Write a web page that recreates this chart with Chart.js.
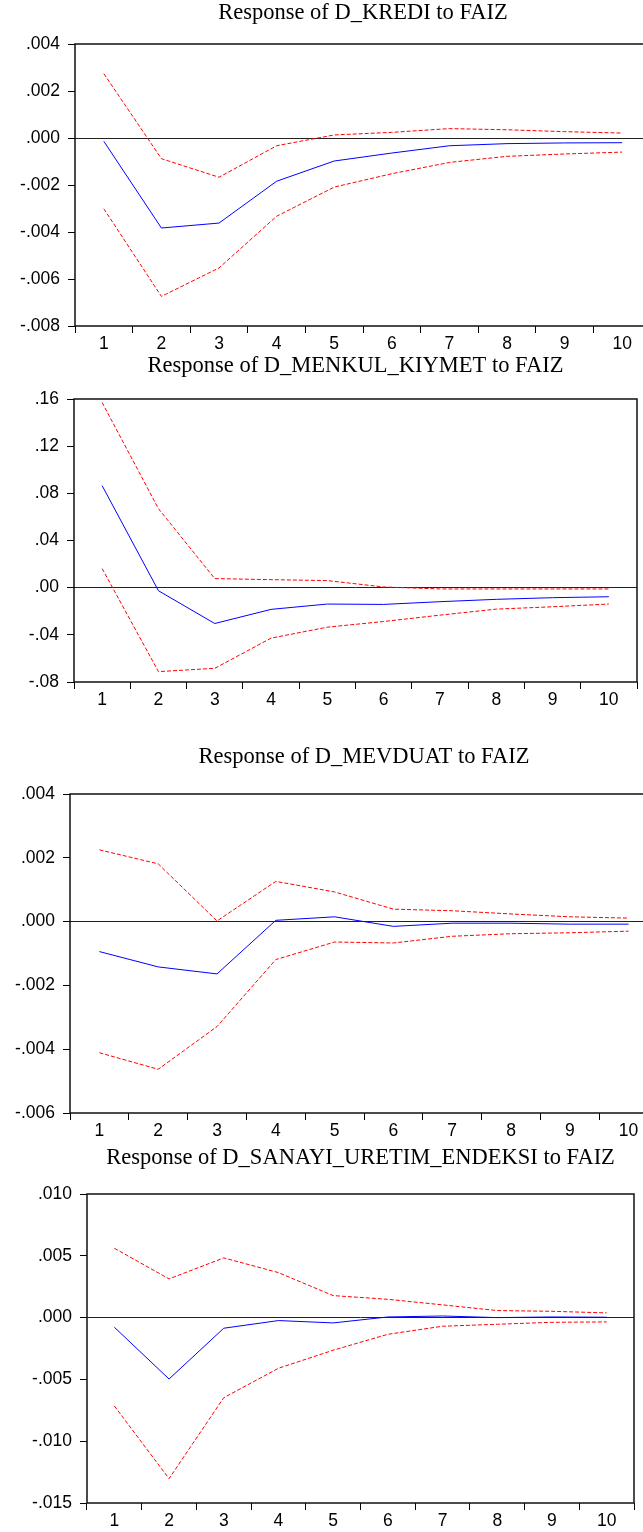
<!DOCTYPE html>
<html>
<head>
<meta charset="utf-8">
<script src="https://cdn.jsdelivr.net/npm/chart.js@4.4.1/dist/chart.umd.min.js"></script>
<style>
  html, body { margin: 0; padding: 0; background: #fff; overflow: hidden; }
  body { width: 643px; height: 1532px; position: relative; }
  .panel { position: absolute; left: 0; }
</style>
</head>
<body>
<div class="panel" style="top:0px;width:700px;height:356px"><canvas id="c1"></canvas></div>
<div class="panel" style="top:353px;width:643px;height:359px"><canvas id="c2"></canvas></div>
<div class="panel" style="top:744px;width:700px;height:399px"><canvas id="c3"></canvas></div>
<div class="panel" style="top:1145px;width:643px;height:388px"><canvas id="c4"></canvas></div>
<script>
const periods = ['1', '2', '3', '4', '5', '6', '7', '8', '9', '10'];

const titles = [
    'Response of D_KREDI to FAIZ',
    'Response of D_MENKUL_KIYMET to FAIZ',
    'Response of D_MEVDUAT to FAIZ',
    'Response of D_SANAYI_URETIM_ENDEKSI to FAIZ'
];

const krediResp  = [-0.00014, -0.00383, -0.00362, -0.00184, -0.00098, -0.00064, -0.00033, -0.00024, -0.00021, -0.00020];
const krediUpper = [0.00274, -0.00088, -0.00167, -0.00033, 0.00013, 0.00024, 0.00040, 0.00035, 0.00027, 0.00021];
const krediLower = [-0.00301, -0.00674, -0.00553, -0.00333, -0.00209, -0.00152, -0.00104, -0.00078, -0.00068, -0.00060];

const menkulResp  = [0.0865, -0.0026, -0.0304, -0.0184, -0.0139, -0.0142, -0.0119, -0.0099, -0.0085, -0.0077];
const menkulUpper = [0.157, 0.067, 0.0077, 0.0068, 0.0060, 0.0006, -0.0011, -0.0011, -0.0011, -0.0011];
const menkulLower = [0.0162, -0.0712, -0.0684, -0.0428, -0.0335, -0.0287, -0.0233, -0.0182, -0.0162, -0.0139];

const mevduatResp  = [-0.00094, -0.00142, -0.00164, 0.00004, 0.00015, -0.00015, -0.00005, -0.00005, -0.00008, -0.00008];
const mevduatUpper = [0.00225, 0.00181, 0.00002, 0.00126, 0.00093, 0.00039, 0.00034, 0.00024, 0.00015, 0.00011];
const mevduatLower = [-0.00411, -0.00463, -0.00329, -0.00119, -0.00064, -0.00067, -0.00046, -0.00038, -0.00035, -0.00030];

const sanayiResp  = [-0.00078, -0.00497, -0.00086, -0.00024, -0.00043, 0.00005, 0.00013, 0.00000, 0.00005, 0.00003];
const sanayiUpper = [0.00561, 0.00313, 0.00483, 0.00364, 0.00178, 0.00148, 0.00103, 0.00057, 0.00051, 0.00038];
const sanayiLower = [-0.00715, -0.01303, -0.00648, -0.00410, -0.00264, -0.00135, -0.00070, -0.00054, -0.00038, -0.00035];

// y axis: min, max, step and decimals of the tick labels
const yMin = [-0.008, -0.08, -0.006, -0.015];
const yMax = [0.004, 0.16, 0.004, 0.010];
const yStep = [0.002, 0.04, 0.002, 0.005];
const yDecimals = [3, 2, 3, 3];

// where each plot box sits inside its canvas
const layouts = [
    { yWidth: 75, padRight: 49, titleGap: 17 },
    { yWidth: 74, padRight: 6, titleGap: 19 },
    { yWidth: 70, padRight: 42, titleGap: 23 },
    { yWidth: 87, padRight: 9, titleGap: 22 }
];

const series = [
    [krediResp, krediUpper, krediLower],
    [menkulResp, menkulUpper, menkulLower],
    [mevduatResp, mevduatUpper, mevduatLower],
    [sanayiResp, sanayiUpper, sanayiLower]
];

Chart.defaults.color = '#000';

const framePlugin = {
    id: 'frame',
    afterDraw(chart) {
        const { ctx, chartArea: a } = chart;
        ctx.save();
        ctx.strokeStyle = '#111';
        ctx.lineWidth = 1.5;
        ctx.strokeRect(Math.round(a.left), Math.round(a.top), Math.round(a.right - a.left), Math.round(a.bottom - a.top));
        ctx.restore();
    }
};

const tickFont = { family: "'Liberation Sans', Arial, sans-serif", size: 17.5 };

function formatTick(value, decimals) {
    const v = Math.abs(value) < 1e-12 ? 0 : value;
    return v.toFixed(decimals).replace(/^(-?)0\./, '$1.');
}

function makePanel(i) {
    const [resp, upper, lower] = series[i];
    const lay = layouts[i];
    new Chart(document.getElementById('c' + (i + 1)), {
        type: 'line',
        data: {
            labels: periods,
            datasets: [
                { data: resp, borderColor: '#0000FF', borderWidth: 1, pointRadius: 0, tension: 0 },
                { data: upper, borderColor: '#FF0000', borderWidth: 1, borderDash: [4, 2], pointRadius: 0, tension: 0 },
                { data: lower, borderColor: '#FF0000', borderWidth: 1, borderDash: [4, 2], pointRadius: 0, tension: 0 }
            ]
        },
        options: {
            responsive: true,
            maintainAspectRatio: false,
            animation: false,
            layout: { padding: { top: 0, left: 0, right: lay.padRight, bottom: 0 } },
            plugins: {
                legend: { display: false },
                tooltip: { enabled: false },
                title: {
                    display: true,
                    text: titles[i],
                    fullSize: false,
                    color: '#000',
                    font: { family: "'Liberation Serif', 'Times New Roman', serif", size: 22.5, weight: 'normal', lineHeight: 1.2 },
                    padding: { top: 0, bottom: lay.titleGap }
                }
            },
            scales: {
                x: {
                    type: 'category',
                    offset: true,
                    border: { display: false },
                    grid: { offset: true, drawOnChartArea: false, tickLength: 7, color: '#000' },
                    ticks: { font: tickFont, color: '#000', padding: 0.5, maxRotation: 0, autoSkip: false },
                    afterFit: scale => { scale.height = 30; }
                },
                y: {
                    min: yMin[i],
                    max: yMax[i],
                    border: { display: false },
                    grid: {
                        drawOnChartArea: true,
                        tickLength: 7,
                        tickColor: '#000',
                        lineWidth: 1,
                        color: ctx => (ctx.tick && Math.abs(ctx.tick.value) < 1e-12) ? '#222' : 'rgba(0,0,0,0)'
                    },
                    ticks: {
                        stepSize: yStep[i],
                        font: tickFont,
                        color: '#000',
                        padding: 8,
                        callback: value => formatTick(value, yDecimals[i])
                    },
                    afterFit: scale => { scale.width = lay.yWidth; }
                }
            }
        },
        plugins: [framePlugin]
    });
}

for (let i = 0; i < 4; i++) makePanel(i);
</script>
</body>
</html>
